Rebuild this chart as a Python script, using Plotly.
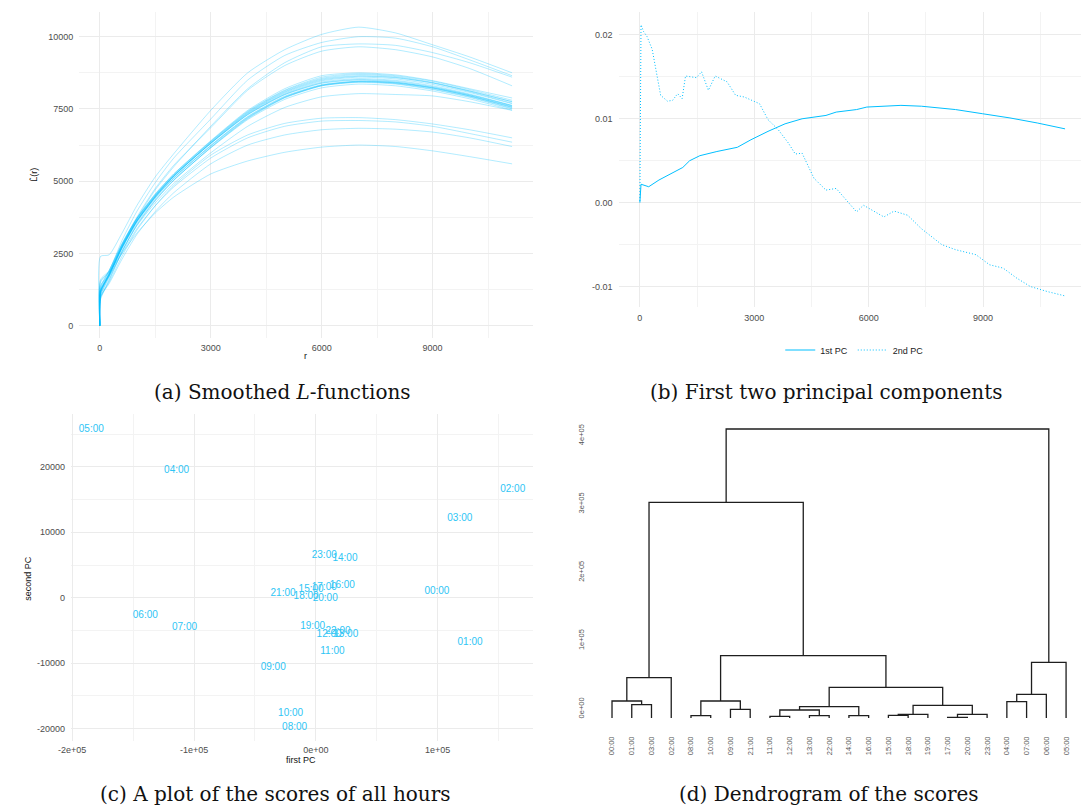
import plotly.graph_objects as go

# ---------------- data ----------------
# (a) smoothed L-functions, one per hour, sampled at R_GRID
R_GRID = [0, 20, 250, 600, 1000, 1500, 2000, 3000, 4000, 5000, 6000, 7000, 8000, 9000, 10000, 11150]
L_00 = [0, 1550, 1850, 2800, 3750, 4750, 5550, 6850, 8150, 9000, 9500, 9650, 9550, 9300, 8900, 8300]
L_01 = [0, 1400, 1750, 2750, 3700, 4700, 5500, 6900, 8200, 9100, 9650, 9750, 9700, 9450, 9100, 8600]
L_02 = [0, 2400, 2450, 3200, 4150, 5150, 5950, 7450, 8750, 9550, 10080, 10330, 10130, 9720, 9300, 8750]
L_03 = [0, 1600, 1900, 2950, 3950, 4950, 5800, 7150, 8500, 9350, 9800, 10000, 9950, 9650, 9200, 8650]
L_04 = [0, 1250, 1700, 2500, 3350, 4150, 4800, 5800, 6500, 6900, 7080, 7100, 7050, 6900, 6650, 6350]
L_05 = [0, 1500, 1850, 2500, 3200, 3900, 4450, 5250, 5700, 6000, 6180, 6250, 6200, 6050, 5850, 5600]
L_06 = [0, 1000, 1450, 2300, 3150, 3950, 4600, 5600, 6250, 6600, 6780, 6830, 6800, 6700, 6500, 6200]
L_07 = [0, 1000, 1500, 2400, 3300, 4150, 4850, 5900, 6600, 7000, 7180, 7200, 7130, 6980, 6780, 6500]
L_08 = [0, 900, 1550, 2550, 3480, 4330, 5030, 6170, 7180, 7900, 8320, 8460, 8420, 8250, 7990, 7620]
L_09 = [0, 1050, 1650, 2580, 3450, 4250, 4920, 5980, 6900, 7550, 7920, 8030, 8000, 7950, 7750, 7450]
L_10 = [0, 950, 1580, 2560, 3480, 4330, 5030, 6160, 7160, 7880, 8300, 8440, 8400, 8230, 7960, 7580]
L_11 = [0, 1050, 1700, 2680, 3600, 4460, 5170, 6330, 7360, 8080, 8500, 8630, 8580, 8400, 8120, 7750]
L_12 = [0, 1100, 1730, 2700, 3620, 4470, 5180, 6320, 7340, 8050, 8470, 8600, 8540, 8350, 8070, 7680]
L_13 = [0, 1250, 1850, 2800, 3700, 4550, 5250, 6400, 7450, 8200, 8650, 8750, 8680, 8480, 8200, 7880]
L_14 = [0, 1300, 1900, 2850, 3720, 4560, 5250, 6380, 7420, 8150, 8600, 8720, 8650, 8460, 8170, 7800]
L_15 = [0, 1200, 1780, 2720, 3610, 4440, 5120, 6230, 7220, 7920, 8320, 8440, 8380, 8190, 7920, 7520]
L_16 = [0, 1200, 1820, 2780, 3680, 4520, 5220, 6370, 7400, 8130, 8560, 8690, 8620, 8420, 8130, 7750]
L_17 = [0, 1200, 1790, 2740, 3640, 4480, 5170, 6300, 7300, 8000, 8400, 8520, 8460, 8270, 7990, 7600]
L_18 = [0, 1180, 1760, 2700, 3590, 4420, 5100, 6210, 7200, 7900, 8300, 8420, 8360, 8170, 7900, 7500]
L_19 = [0, 1150, 1750, 2700, 3600, 4440, 5120, 6240, 7240, 7940, 8340, 8460, 8400, 8220, 7950, 7560]
L_20 = [0, 1150, 1760, 2720, 3630, 4480, 5180, 6310, 7320, 8020, 8430, 8550, 8490, 8300, 8020, 7620]
L_21 = [0, 1150, 1720, 2650, 3540, 4370, 5050, 6150, 7130, 7830, 8230, 8360, 8300, 8120, 7850, 7460]
L_22 = [0, 1150, 1780, 2750, 3650, 4500, 5200, 6350, 7380, 8100, 8530, 8650, 8590, 8400, 8100, 7700]
L_23 = [0, 1350, 1900, 2820, 3700, 4520, 5200, 6310, 7300, 7990, 8390, 8500, 8430, 8230, 7950, 7550]
L_CURVES = [L_00, L_01, L_02, L_03, L_04, L_05, L_06, L_07, L_08, L_09, L_10, L_11,
            L_12, L_13, L_14, L_15, L_16, L_17, L_18, L_19, L_20, L_21, L_22, L_23]

# (b) first two principal components
PC1_R = [0, 10, 30, 232, 500, 1126, 1305, 1573, 2020, 2556, 2913, 3360, 3807, 4254, 4880,
         5148, 5684, 5952, 6846, 7382, 8276, 8991, 9706, 10421, 11150]
PC1_V = [0, 0.0012, 0.0022, 0.0019, 0.0027, 0.0042, 0.0050, 0.0056, 0.0061, 0.0066, 0.0075,
         0.0085, 0.0094, 0.0100, 0.0104, 0.0108, 0.0111, 0.0114, 0.0116, 0.0115, 0.0111,
         0.0106, 0.0101, 0.0095, 0.0088]
PC2_R = [0, 15, 30, 98, 188, 322, 411, 545, 724, 858, 992, 1108, 1197, 1483, 1618, 1796, 1975,
         2288, 2511, 2735, 3137, 3360, 3628, 3896, 4075, 4254, 4567, 4880, 5148, 5416, 5684,
         5863, 6399, 6667, 7024, 7382, 7918, 8276, 8812, 9170, 9527, 9885, 10242, 10689, 11135]
PC2_V = [0.0002, 0.011, 0.0212, 0.0204, 0.0198, 0.0183, 0.0162, 0.0128, 0.0121, 0.0122, 0.0130,
         0.0124, 0.0151, 0.0149, 0.0156, 0.0134, 0.0151, 0.0144, 0.0128, 0.0126, 0.0118, 0.0099,
         0.0087, 0.0071, 0.0058, 0.0059, 0.0029, 0.0015, 0.0017, 0.0003, -0.0011, -0.0003,
         -0.0017, -0.0010, -0.0015, -0.0031, -0.0050, -0.0056, -0.0062, -0.0074, -0.0078,
         -0.0090, -0.0100, -0.0106, -0.0111]

# (c) scores of all hours
HOURS = ["00:00", "01:00", "02:00", "03:00", "04:00", "05:00", "06:00", "07:00",
         "08:00", "09:00", "10:00", "11:00", "12:00", "13:00", "14:00", "15:00",
         "16:00", "17:00", "18:00", "19:00", "20:00", "21:00", "22:00", "23:00"]
SCORE_PC1 = [99400, 126600, 161600, 118200, -114300, -184300, -140000, -107800,
             -17400, -35000, -20700, 13600, 10900, 24500, 23900, -3900,
             21800, 6900, -8000, -2600, 7700, -26900, 18200, 6900]
SCORE_PC2 = [920, -6920, 16590, 12060, 19440, 25700, -2700, -4630,
             -19850, -10640, -17710, -8260, -5600, -5600, 6020, 1280,
             1830, 1530, 260, -4330, -150, 670, -5200, 6420]

# (d) dendrogram: leaf order and merges (child_a, child_b, height)
LEAF_ORDER = ["00:00", "01:00", "03:00", "02:00", "08:00", "10:00", "09:00", "21:00",
              "11:00", "12:00", "13:00", "22:00", "14:00", "16:00", "15:00", "18:00",
              "19:00", "17:00", "20:00", "23:00", "04:00", "07:00", "06:00", "05:00"]
MERGES = [
    ("01:00", "03:00", 19500),   # 0
    ("00:00", 0, 24900),         # 1
    (1, "02:00", 59000),         # 2
    ("08:00", "10:00", 3400),    # 3
    ("09:00", "21:00", 12700),   # 4
    (3, 4, 24900),               # 5
    ("11:00", "12:00", 2400),    # 6
    ("13:00", "22:00", 3400),    # 7
    (6, 7, 11700),               # 8
    ("14:00", "16:00", 3400),    # 9
    (8, 9, 16600),               # 10
    ("15:00", "18:00", 3900),    # 11
    (11, "19:00", 5400),         # 12
    ("17:00", "20:00", 1000),    # 13
    (13, "23:00", 5400),         # 14
    (12, 14, 18500),             # 15
    (10, 15, 44900),             # 16
    (5, 16, 91300),              # 17
    (2, 17, 315800),             # 18
    ("04:00", "07:00", 23900),   # 19
    (19, "06:00", 34600),        # 20
    (20, "05:00", 81500),        # 21
    (18, 21, 423100),            # 22
]

# ---------------- layout helpers ----------------
W, H = 1081, 809
def xd(a, b):
    return [a / W, b / W]
def yd(top, bottom):
    return [1 - bottom / H, 1 - top / H]

BLUE = "#00BFFF"
SANS = "Liberation Sans, Arial, sans-serif"
TICKFONT = dict(family=SANS, size=9, color="#4d4d4d")
GRID = "#EBEBEB"
MINOR = "#F3F3F3"

fig = go.Figure()

# (a)
for c in L_CURVES:
    fig.add_trace(go.Scatter(x=R_GRID, y=c, mode="lines", xaxis="x", yaxis="y",
                             line=dict(color="rgba(0,191,255,0.3)", width=1, shape="spline", smoothing=0.6),
                             showlegend=False, hoverinfo="skip"))
# (b)
fig.add_trace(go.Scatter(x=PC1_R, y=PC1_V, mode="lines", name="1st PC", xaxis="x2", yaxis="y2",
                         line=dict(color=BLUE, width=1)))
fig.add_trace(go.Scatter(x=PC2_R, y=PC2_V, mode="lines", name="2nd PC", xaxis="x2", yaxis="y2",
                         line=dict(color=BLUE, width=1, dash="1px,2px")))
# (c)
fig.add_trace(go.Scatter(x=SCORE_PC1, y=SCORE_PC2, text=HOURS, mode="text", xaxis="x3", yaxis="y3",
                         textfont=dict(family=SANS, size=10, color="#2ec5f5"),
                         showlegend=False))

# (d) dendrogram segments computed from merges
pos = {lab: i + 1 for i, lab in enumerate(LEAF_ORDER)}
cl_x, cl_h = [], []
dx, dy = [], []
def node(n):
    if isinstance(n, str):
        return pos[n], 0.0
    return cl_x[n], cl_h[n]
for a, b, h in MERGES:
    xa, ha = node(a)
    xb, hb = node(b)
    dx += [xa, xa, xb, xb, None]
    dy += [ha, h, h, hb, None]
    cl_x.append((xa + xb) / 2)
    cl_h.append(h)
fig.add_trace(go.Scatter(x=dx, y=dy, mode="lines", xaxis="x4", yaxis="y4",
                         line=dict(color="#1e1e1e", width=1.3), showlegend=False, hoverinfo="skip"))

def grid_axis(**kw):
    d = dict(showgrid=True, gridcolor=GRID, gridwidth=1, zeroline=False, showline=False,
             ticks="", tickfont=TICKFONT,
             minor=dict(showgrid=True, gridcolor=MINOR, gridwidth=1))
    d.update(kw)
    return d

fig.update_layout(
    width=W, height=H, margin=dict(l=0, r=0, t=0, b=0),
    paper_bgcolor="white", plot_bgcolor="white",
    xaxis=grid_axis(domain=xd(67, 526), range=[-557, 11707], anchor="y",
                    tickvals=[0, 3000, 6000, 9000], ticktext=["0", "3000", "6000", "9000"],
                    minor=dict(showgrid=True, gridcolor=MINOR, tickvals=[1500, 4500, 7500, 10500]),
                    ticklabelstandoff=3),
    yaxis=grid_axis(domain=yd(11.7, 338.3), range=[-436, 10865], anchor="x",
                    tickvals=[0, 2500, 5000, 7500, 10000],
                    ticktext=["0", "2500", "5000", "7500", "10000"],
                    minor=dict(showgrid=True, gridcolor=MINOR, tickvals=[1250, 3750, 6250, 8750]),
                    ticklabelstandoff=5),
    xaxis2=grid_axis(domain=xd(613, 1081), range=[-557, 11568], anchor="y2",
                     tickvals=[0, 3000, 6000, 9000], ticktext=["0", "3000", "6000", "9000"],
                     minor=dict(showgrid=True, gridcolor=MINOR, tickvals=[1500, 4500, 7500, 10500]),
                     ticklabelstandoff=4),
    yaxis2=grid_axis(domain=yd(12, 306.7), range=[-0.0124, 0.02273], anchor="x2",
                     tickvals=[-0.01, 0, 0.01, 0.02], ticktext=["-0.01", "0.00", "0.01", "0.02"],
                     minor=dict(showgrid=True, gridcolor=MINOR, tickvals=[-0.005, 0.005, 0.015]),
                     ticklabelstandoff=5),
    xaxis3=grid_axis(domain=xd(58.7, 526), range=[-201000, 178000], anchor="y3",
                     tickvals=[-200000, -100000, 0, 100000],
                     ticktext=["-2e+05", "-1e+05", "0e+00", "1e+05"],
                     minor=dict(showgrid=True, gridcolor=MINOR, tickvals=[-150000, -50000, 50000, 150000]),
                     ticklabelstandoff=2),
    yaxis3=grid_axis(domain=yd(414, 741), range=[-21910, 28090], anchor="x3",
                     tickvals=[-20000, -10000, 0, 10000, 20000],
                     ticktext=["-20000", "-10000", "0", "10000", "20000"],
                     minor=dict(showgrid=True, gridcolor=MINOR, tickvals=[-15000, -5000, 5000, 15000, 25000]),
                     ticklabelstandoff=5),
    xaxis4=dict(domain=xd(586, 1081), range=[-0.016, 24.756], anchor="y4",
                showgrid=False, zeroline=False, showline=False, ticks="",
                tickvals=list(range(1, 25)), ticktext=LEAF_ORDER, tickangle=-90,
                tickfont=dict(family=SANS, size=7.5, color="#555555"),
                ticklabelstandoff=4),
    yaxis4=dict(domain=yd(420, 730), range=[-17570, 436300], anchor="x4",
                showgrid=False, zeroline=False, showline=False, ticks="",
                tickvals=[0, 100000, 200000, 300000, 400000],
                ticktext=["0e+00", "1e+05", "2e+05", "3e+05", "4e+05"], tickangle=-90,
                tickfont=dict(family=SANS, size=7.5, color="#555555"),
                ticklabelstandoff=5, ticklabelshift=-9),
    legend=dict(orientation="h", x=852 / W, y=1 - 350 / H, xanchor="center", yanchor="middle",
                font=dict(family=SANS, size=9, color="#222222"),
                itemwidth=30, bgcolor="rgba(0,0,0,0)"),
)

AX_TITLE = dict(family=SANS, size=9, color="#111111")
CAP = dict(family="DejaVu Serif, serif", size=20, color="#111111")
def ann(x, y, text, font, angle=0, xa="center", ya="middle"):
    fig.add_annotation(x=x / W, y=1 - y / H, xref="paper", yref="paper", text=text,
                       showarrow=False, font=font, textangle=angle, xanchor=xa, yanchor=ya)

ann(296, 356, "r", AX_TITLE)
ann(21, 175, "L\u0302(r)", AX_TITLE, angle=-90)
ann(292, 760, "first PC", AX_TITLE)
ann(15, 578, "second PC", AX_TITLE, angle=-90)

ann(273, 392, "(a) Smoothed <i>L</i>-functions", CAP)
ann(823, 392, "(b) First two principal components", CAP)
ann(266, 794, "(c) A plot of the scores of all hours", CAP)
ann(826, 794, "(d) Dendrogram of the scores", CAP)

fig.write_html("out.html")
